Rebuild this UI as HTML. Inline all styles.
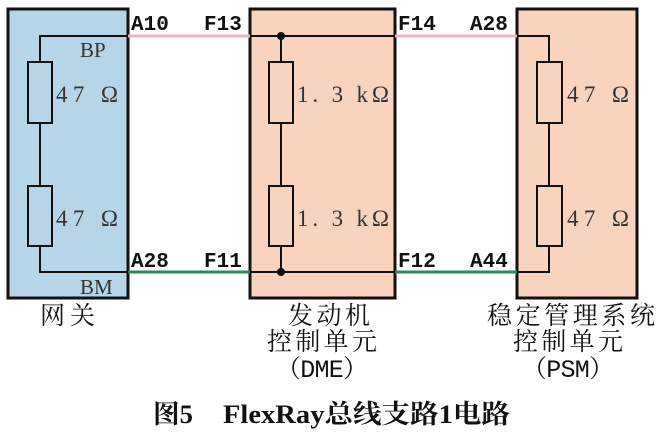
<!DOCTYPE html>
<html><head><meta charset="utf-8"><style>
html,body{margin:0;padding:0;background:#fff;width:660px;height:435px;overflow:hidden}
svg{display:block}
.p{font-family:"Liberation Mono","Noto Sans CJK SC",monospace;font-weight:bold;font-size:21px;fill:#111}
.v{font-family:"Liberation Serif","Noto Serif CJK SC",serif;font-size:23px;fill:#333;white-space:pre}
.c{font-family:"Liberation Mono","Noto Serif CJK SC",serif;font-size:25px;fill:#111}
.cap{font-family:"Liberation Serif","Noto Serif CJK SC",serif;font-weight:bold;font-size:26px;fill:#111}
</style></head><body>
<svg width="660" height="435" viewBox="0 0 660 435" xml:space="preserve">
<rect x="8" y="9" width="120" height="289" fill="#b6d6e7" stroke="#111" stroke-width="3"/>
<rect x="250" y="9" width="145" height="289" fill="#f8d3be" stroke="#111" stroke-width="3"/>
<rect x="517" y="9" width="120" height="289" fill="#f8d3be" stroke="#111" stroke-width="3"/>
<line x1="128" y1="36" x2="250" y2="36" stroke="#e9b6bd" stroke-width="3"/>
<line x1="395" y1="36" x2="517" y2="36" stroke="#e9b6bd" stroke-width="3"/>
<line x1="128" y1="272" x2="250" y2="272" stroke="#2e8a5a" stroke-width="3"/>
<line x1="395" y1="272" x2="517" y2="272" stroke="#2e8a5a" stroke-width="3"/>
<g stroke="#111" stroke-width="2" fill="none">
<polyline points="128,36 40,36 40,272 128,272"/>
<line x1="250" y1="36" x2="395" y2="36"/><line x1="250" y1="272" x2="395" y2="272"/>
<line x1="281" y1="36" x2="281" y2="272"/>
<polyline points="517,36 549,36 549,272 517,272"/>
</g>
<g stroke="#111" stroke-width="2">
<rect x="28" y="62" width="24" height="61" fill="#b6d6e7"/><rect x="28" y="186" width="24" height="60" fill="#b6d6e7"/>
<rect x="269" y="62" width="24" height="61" fill="#f8d3be"/><rect x="269" y="186" width="24" height="60" fill="#f8d3be"/>
<rect x="537" y="62" width="25" height="61" fill="#f8d3be"/><rect x="537" y="186" width="25" height="60" fill="#f8d3be"/>
</g>
<circle cx="281" cy="36" r="4" fill="#111"/><circle cx="281" cy="272" r="4" fill="#111"/>
<text class="p" x="131" y="30">A10</text><text class="p" x="204" y="30">F13</text>
<text class="p" x="398" y="30">F14</text><text class="p" x="470" y="30">A28</text>
<text class="p" x="131" y="267">A28</text><text class="p" x="204" y="267">F11</text>
<text class="p" x="398" y="267">F12</text><text class="p" x="470" y="267">A44</text>
<text class="v" x="80" y="57" style="font-size:21px">BP</text><text class="v" x="80" y="294" style="font-size:21px">BM</text>
<text class="v" x="56" y="102" textLength="62" lengthAdjust="spacing">47 Ω</text><text class="v" x="56" y="226" textLength="62" lengthAdjust="spacing">47 Ω</text>
<text class="v" x="297" y="102" textLength="92" lengthAdjust="spacing">1. 3 kΩ</text><text class="v" x="297" y="226" textLength="92" lengthAdjust="spacing">1. 3 kΩ</text>
<text class="v" x="567" y="102" textLength="62" lengthAdjust="spacing">47 Ω</text><text class="v" x="567" y="226" textLength="62" lengthAdjust="spacing">47 Ω</text>
<text class="c" x="40" y="324" textLength="55" lengthAdjust="spacing">网关</text>
<text class="c" x="288" y="324" textLength="82" lengthAdjust="spacing">发动机</text>
<text class="c" x="267" y="350" textLength="110" lengthAdjust="spacing">控制单元</text>
<text class="c" x="276" y="377" textLength="92" lengthAdjust="spacing">（DME）</text>
<text class="c" x="487" y="324" textLength="168" lengthAdjust="spacing">稳定管理系统</text>
<text class="c" x="513" y="350" textLength="110" lengthAdjust="spacing">控制单元</text>
<text class="c" x="522" y="377" textLength="92" lengthAdjust="spacing">（PSM）</text>
<text class="cap" x="153" y="423" textLength="40" lengthAdjust="spacingAndGlyphs">图5</text>
<text class="cap" x="223" y="423" textLength="287" lengthAdjust="spacingAndGlyphs">FlexRay总线支路1电路</text>
</svg>
</body></html>
